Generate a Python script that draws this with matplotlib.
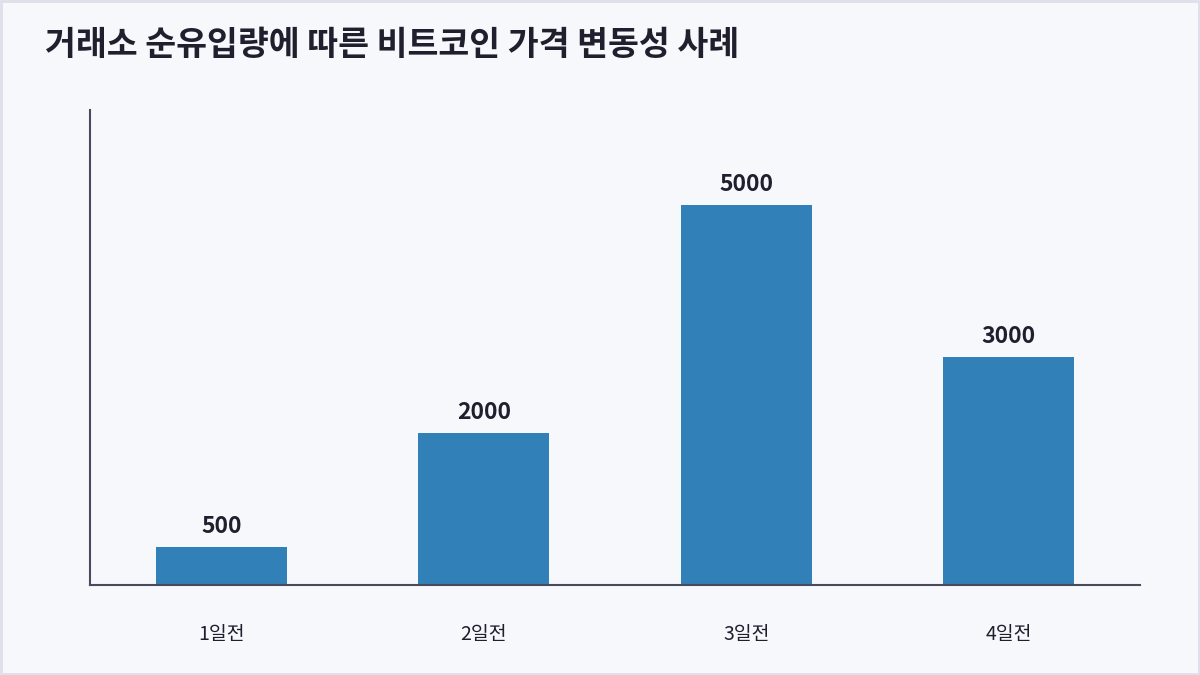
import matplotlib
matplotlib.use("Agg")
import matplotlib.pyplot as plt
from matplotlib.patches import Rectangle

plt.rcParams['font.family'] = ['Noto Sans CJK KR', 'DejaVu Sans']

days = ["1일전", "2일전", "3일전", "4일전"]
inflow = [500, 2000, 5000, 3000]

fig = plt.figure(figsize=(12, 6.75), dpi=100, facecolor="#f7f8fc")
fig.patches.append(Rectangle((0.001, 0.001), 0.998, 0.998, transform=fig.transFigure,
                             fill=False, edgecolor="#dde0e8", linewidth=2))
ax = fig.add_axes([0.075, 0.1333, 0.875, 0.7037])
ax.set_facecolor("#f7f8fc")

x = range(len(days))
bars = ax.bar(x, inflow, width=0.5, color="#3280b8")
for b, v in zip(bars, inflow):
    ax.text(b.get_x() + b.get_width() / 2, v + 125, str(v), ha="center", va="bottom",
            fontsize=16.5, fontweight="bold", color="#1f1f2e")

ax.set_xlim(-0.5, 3.5)
ax.set_ylim(0, 6250)
ax.set_xticks(list(x))
ax.set_xticklabels(days, fontsize=14, color="#1f1f2e")
ax.tick_params(axis="x", length=0, pad=28)
ax.set_yticks([])
for s in ["top", "right"]:
    ax.spines[s].set_visible(False)
for s in ["left", "bottom"]:
    ax.spines[s].set_color("#4a4a5e")
    ax.spines[s].set_linewidth(1.5)

fig.text(0.0375, 0.933, "거래소 순유입량에 따른 비트코인 가격 변동성 사례", fontsize=24.2,
         fontweight="bold", color="#1f1f2e", ha="left", va="center")

fig.savefig("out.png", dpi=100, facecolor=fig.get_facecolor())
